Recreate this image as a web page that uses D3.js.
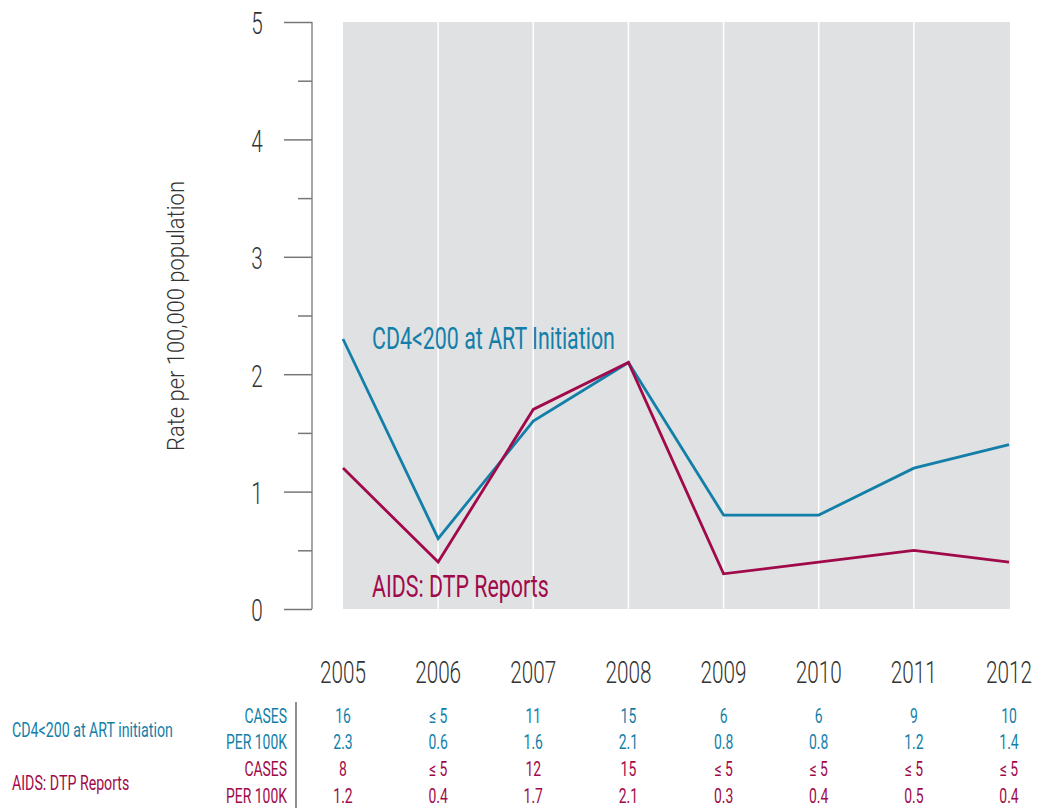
<!DOCTYPE html>
<html><head><meta charset="utf-8">
<script src="https://cdn.jsdelivr.net/npm/d3@7"></script>
<style>
body{margin:0;background:#fff;}
text{font-family:Roboto,"DejaVu Sans",sans-serif;font-weight:300;}
text.reg{font-weight:400;}
</style></head>
<body><svg id="c" width="1037" height="808"></svg>
<script>
const years = ["2005","2006","2007","2008","2009","2010","2011","2012"];
const cd4Rate = [2.3,0.6,1.6,2.1,0.8,0.8,1.2,1.4];
const aidsRate = [1.2,0.4,1.7,2.1,0.3,0.4,0.5,0.4];
const cd4Cases = ["16","≤ 5","11","15","6","6","9","10"];
const cd4Per = ["2.3","0.6","1.6","2.1","0.8","0.8","1.2","1.4"];
const aidsCases = ["8","≤ 5","12","15","≤ 5","≤ 5","≤ 5","≤ 5"];
const aidsPer = ["1.2","0.4","1.7","2.1","0.3","0.4","0.5","0.4"];
const yTicks = [0,1,2,3,4,5];

const BLUE = "#137fa9", RED = "#a10a4a", GRAY="#333";
const svg = d3.select("#c");
const x = d3.scalePoint().domain(years).range([343,1009]);
const y = d3.scaleLinear().domain([0,5]).range([609,22]);

function factor(str, size, target, cls){
  const t = svg.append("text").attr("class",cls||null).attr("font-size",size).text(str);
  const w = t.node().getComputedTextLength(); t.remove();
  return target / w;
}
function condense(sel, k){
  sel.each(function(){
    const el = d3.select(this), ax = +el.attr("x");
    el.attr("transform",`translate(${ax},0) scale(${k},1) translate(${-ax},0)`);
  });
}

svg.append("rect").attr("x",343).attr("y",y(5)).attr("width",1010-343).attr("height",y(0)-y(5)).attr("fill","#e0e1e3");
svg.selectAll("line.grid").data(years.slice(1,-1)).enter().append("line")
  .attr("x1",d=>x(d)).attr("x2",d=>x(d)).attr("y1",y(5)).attr("y2",y(0))
  .attr("stroke","#fff").attr("stroke-width",1.5);

const yAxis = d3.axisLeft(y).tickValues(d3.range(0,5.01,0.5)).tickSize(0).tickFormat("");
const ga = svg.append("g").attr("transform","translate(312,0)").call(yAxis);
ga.select(".domain").attr("stroke","#888").attr("stroke-width",1.5).attr("d",`M0,${y(5)}V${y(0)}`);
ga.selectAll(".tick line").attr("stroke","#777").attr("stroke-width",1.5)
  .attr("x2",d=>Number.isInteger(d)?-28:-14);

const kBig = factor("2005",32,46);
const yt = svg.selectAll("text.yt").data(yTicks).enter().append("text")
  .attr("x",257).attr("y",d=>y(d)+12.5).attr("text-anchor","middle")
  .attr("font-size",32).attr("fill",GRAY).text(d=>d);
condense(yt,kBig);

const kTitle = factor("Rate per 100,000 population",24,270);
svg.append("g").attr("transform","translate(184,316) rotate(-90)")
  .append("text").attr("x",0).attr("y",0).attr("text-anchor","middle")
  .attr("font-size",24).attr("fill",GRAY).text("Rate per 100,000 population")
  .call(s=>condense(s,kTitle));

const xl = svg.selectAll("text.xl").data(years).enter().append("text")
  .attr("x",d=>x(d)).attr("y",683).attr("text-anchor","middle")
  .attr("font-size",32).attr("fill",GRAY).text(d=>d);
condense(xl,kBig);

const line = d3.line().x((d,i)=>x(years[i])).y(d=>y(d));
svg.append("path").datum(cd4Rate).attr("d",line).attr("fill","none").attr("stroke",BLUE).attr("stroke-width",2.8);
svg.append("path").datum(aidsRate).attr("d",line).attr("fill","none").attr("stroke",RED).attr("stroke-width",2.8);

const kLab = factor("CD4<200 at ART Initiation",31,243,"reg");
svg.append("text").attr("class","reg").attr("x",372).attr("y",349).attr("font-size",31).attr("fill",BLUE).text("CD4<200 at ART Initiation").call(s=>condense(s,kLab));
svg.append("text").attr("class","reg").attr("x",372).attr("y",597).attr("font-size",31).attr("fill",RED).text("AIDS: DTP Reports").call(s=>condense(s,kLab));

svg.append("line").attr("x1",296).attr("x2",296).attr("y1",702).attr("y2",808).attr("stroke","#444").attr("stroke-width",1.2);
const kTab = factor("PER 100K",20,61,"reg");
const rows = [
  {label:"CASES", vals:cd4Cases, color:BLUE, y:723},
  {label:"PER 100K", vals:cd4Per, color:BLUE, y:749},
  {label:"CASES", vals:aidsCases, color:RED, y:776},
  {label:"PER 100K", vals:aidsPer, color:RED, y:803}
];
rows.forEach(r=>{
  svg.append("text").attr("class","reg").attr("x",287).attr("y",r.y).attr("text-anchor","end").attr("font-size",20).attr("fill",r.color).text(r.label).call(s=>condense(s,kTab));
  svg.selectAll(null).data(r.vals).enter().append("text").attr("class","reg")
    .attr("x",(d,i)=>x(years[i])).attr("y",r.y).attr("text-anchor","middle")
    .attr("font-size",20).attr("fill",r.color).text(d=>d).call(s=>condense(s,kTab));
});
const kLeft = factor("CD4<200 at ART initiation",20,161,"reg");
svg.append("text").attr("class","reg").attr("x",12).attr("y",737).attr("font-size",20).attr("fill",BLUE).text("CD4<200 at ART initiation").call(s=>condense(s,kLeft));
svg.append("text").attr("class","reg").attr("x",12).attr("y",790).attr("font-size",20).attr("fill",RED).text("AIDS: DTP Reports").call(s=>condense(s,kLeft));
</script></body></html>
